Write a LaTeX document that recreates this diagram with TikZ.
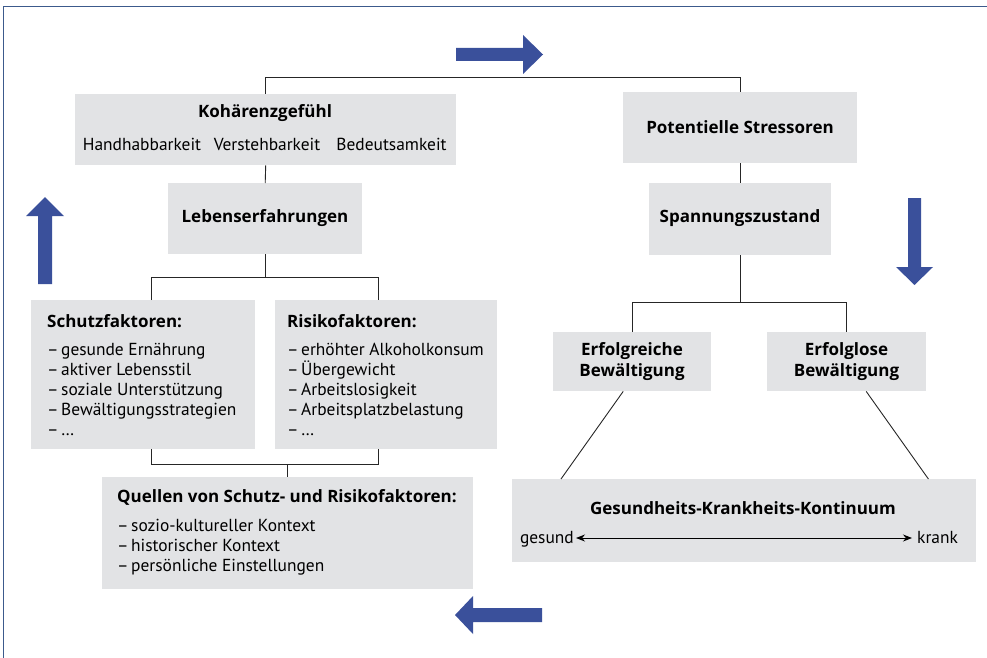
\documentclass[tikz,border=0pt]{standalone}
\usepackage{fontspec}
\setmainfont{PT Sans}
\newfontfamily\ttlfont{Open Sans}
\usetikzlibrary{arrows.meta}
\definecolor{boxgray}{RGB}{226,227,229}
\definecolor{arrblue}{RGB}{58,80,155}
\definecolor{framec}{RGB}{60,90,140}
\begin{document}
\begin{tikzpicture}[x=1pt,y=-1pt,
  box/.style={fill=boxgray, draw=none, inner sep=0pt, anchor=north west},
  ttl/.style={font=\ttlfont\fontsize{17}{21}\selectfont\bfseries, inner sep=0pt},
  txt/.style={font=\fontsize{17.4}{20}\selectfont, inner sep=0pt},
  item/.style={txt, anchor=base west},
  conn/.style={draw=black!85, line width=0.9pt},
  bigarrow/.style={fill=arrblue, draw=none}]
\useasboundingbox (0,0) rectangle (987,658);
% frame
\draw[framec, line width=1pt] (3,658) -- (3,7) -- (987,7);
% big arrows
\fill[bigarrow] (456,48) -- (523,48) -- (523,35) -- (543,54.5) -- (523,74) -- (523,61) -- (456,61) -- cycle;
\fill[bigarrow] (38,284) -- (38,216) -- (26,216) -- (45,197) -- (64,216) -- (52,216) -- (52,284) -- cycle;
\fill[bigarrow] (908,198) -- (921,198) -- (921,267) -- (933,267) -- (914.5,285) -- (896,267) -- (908,267) -- cycle;
\fill[bigarrow] (542,608) -- (473,608) -- (473,596) -- (455,615) -- (473,634) -- (473,622) -- (542,622) -- cycle;
% boxes
\node[box, minimum width=381pt, minimum height=71pt] (koh) at (75,94) {};
\node[box, minimum width=234pt, minimum height=71pt] (pot) at (623,92) {};
\node[box, minimum width=194pt, minimum height=71pt] (leb) at (168,183) {};
\node[box, minimum width=182pt, minimum height=72pt] (spa) at (649,183) {};
\node[box, minimum width=224pt, minimum height=149pt] (sch) at (31,300) {};
\node[box, minimum width=222pt, minimum height=149pt] (ris) at (275,300) {};
\node[box, minimum width=371pt, minimum height=112pt] (que) at (102,477) {};
\node[box, minimum width=158pt, minimum height=59pt] (erfr) at (553,332) {};
\node[box, minimum width=159pt, minimum height=59pt] (erfl) at (767,332) {};
\node[box, minimum width=464pt, minimum height=83pt] (gk) at (512,479) {};
% texts
\node[ttl] (kohT) at (265,113) {Kohärenzgefühl};
\node[txt] (hand) at (142,144) {Handhabbarkeit};
\node[txt] (vers) at (267,144) {Verstehbarkeit};
\node[txt] (bede) at (391.5,144) {Bedeutsamkeit};
\node[ttl] (potT) at (740,127) {Potentielle Stressoren};
\node[ttl] (lebT) at (265,218) {Lebenserfahrungen};
\node[ttl] (spaT) at (740,218) {Spannungszustand};
\node[ttl, anchor=base west] (schT) at (47,327) {Schutzfaktoren:};
\foreach \t [count=\i] in {gesunde Ernährung, aktiver Lebensstil, soziale Unterstützung, Bewältigungsstrategien, …}
  \node[item] (s\i) at (47,335+20*\i) {\makebox[14pt][l]{–}\t};
\node[ttl, anchor=base west] (risT) at (287,327) {Risikofaktoren:};
\foreach \t [count=\i] in {erhöhter Alkoholkonsum, Übergewicht, Arbeitslosigkeit, Arbeitsplatzbelastung, …}
  \node[item] (r\i) at (287,335+20*\i) {\makebox[14pt][l]{–}\t};
\node[ttl, anchor=base west] (queT) at (117,502) {Quellen von Schutz- und Risikofaktoren:};
\foreach \t [count=\i] in {sozio-kultureller Kontext, historischer Kontext, persönliche Einstellungen}
  \node[item] (q\i) at (117,511+20*\i) {\makebox[14pt][l]{–}\t};
\node[ttl, align=center] (erfrT) at (632,361.5) {Erfolgreiche\\Bewältigung};
\node[ttl, align=center] (erflT) at (846.5,361.5) {Erfolglose\\Bewältigung};
\node[ttl] (gkT) at (743,508) {Gesundheits-Krankheits-Kontinuum};
\node[txt, anchor=base east] (ges) at (574,543) {gesund};
\node[txt, anchor=base west] (kra) at (917,543) {krank};
% connectors
\draw[conn] (koh.north) -- ++(0,-17) coordinate (kj) -| (pot.north);
\draw[conn] (koh.south) -- (leb.north);
\draw[conn] (pot.south) -- (spa.north);
\draw[conn] (leb.south) -- ++(0,23) coordinate (lj);
\draw[conn] ([xshift=8pt]sch.north) |- (lj) -| ([xshift=-8pt]ris.north);
\draw[conn] ([xshift=8pt]sch.south) -- ++(0,15) coordinate (sj) -| ([xshift=-8pt]ris.south);
\draw[conn] (sj -| que.north) -- (que.north);
\draw[conn] (spa.south) -- ++(0,47) coordinate (pj);
\draw[conn] (erfr.north) |- (pj) -| (erfl.north);
\draw[conn] ([xshift=-9pt]erfr.south) -- ([xshift=49pt]gk.north west);
\draw[conn] ([xshift=19.5pt]erfl.south) -- ([xshift=-48pt]gk.north east);
\draw[line width=0.9pt, {Stealth[length=9pt,width=7pt]}-{Stealth[length=9pt,width=7pt]}] ([shift={(2,-5)}]ges.base east) -- ([shift={(-5,-5)}]kra.base west);
\end{tikzpicture}
\end{document}
